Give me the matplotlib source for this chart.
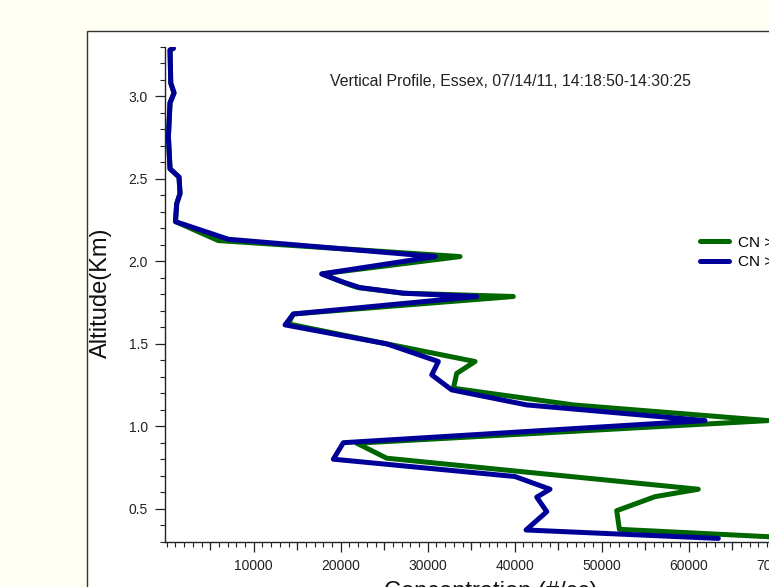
import matplotlib
matplotlib.use("Agg")
import matplotlib.pyplot as plt
from matplotlib.patches import Rectangle
from matplotlib.ticker import MultipleLocator, FixedLocator

plt.rcParams['font.family'] = ['Liberation Sans', 'DejaVu Sans']

# ---- data ----
alt_blue = [3.29, 3.28, 3.08, 3.02, 2.96, 2.755, 2.56, 2.51, 2.41, 2.35, 2.24,
            2.133, 2.028, 1.923, 1.876, 1.84, 1.806, 1.786, 1.68, 1.614, 1.499,
            1.392, 1.311, 1.22, 1.129, 1.034, 0.90, 0.80, 0.695, 0.618, 0.57,
            0.482, 0.371, 0.32]
cn_blue = [760, 380, 460, 840, 380, 190, 380, 1410, 1530, 1150, 1000,
           7090, 30840, 17820, 20110, 22220, 27200, 35630, 14550, 13600, 25290,
           31220, 30460, 32760, 41380, 61870, 20300, 19150, 40030, 44060, 42530,
           43680, 41300, 63400]

alt_green = [3.29, 3.28, 3.08, 3.02, 2.96, 2.755, 2.56, 2.51, 2.41, 2.35, 2.24,
             2.125, 2.028, 1.923, 1.856, 1.84, 1.806, 1.786, 1.68, 1.62, 1.499,
             1.392, 1.32, 1.23, 1.129, 1.034, 0.897, 0.806, 0.618, 0.573,
             0.488, 0.375, 0.315]
cn_green = [760, 380, 460, 840, 380, 190, 380, 1410, 1530, 1150, 1000,
            5930, 33710, 17820, 21070, 22000, 27200, 39840, 14550, 13980, 25290,
            35440, 33330, 32950, 46740, 69150, 21840, 25290, 61100, 56130,
            51720, 52030, 75000]

labels = ["CN > 3nm", "CN > 10nm"]
title = "Vertical Profile, Essex, 07/14/11, 14:18:50-14:30:25"
xlabel = "Concentration (#/cc)"
ylabel = "Altitude(Km)"
xtick_values = [10000, 20000, 30000, 40000, 50000, 60000, 70000, 80000]
ytick_values = [0.5, 1.0, 1.5, 2.0, 2.5, 3.0]

W, H = 769, 587
fig = plt.figure(figsize=(W / 100, H / 100), dpi=100, facecolor='#FFFFF4')

# outer white frame (extends past the right / bottom edges)
fig.patches.append(Rectangle((86.5 / W, -0.2), 1.5, (1 - 30.5 / H) + 0.2,
                             transform=fig.transFigure, facecolor='white',
                             edgecolor='#333333', linewidth=1.0, zorder=-5))

ax_left = 165 / W
ax_bottom = (H - 541.7) / H
ax_height = (541.7 - 46.7) / H
ax_width = (80200 * 0.0087) / W
ax = fig.add_axes([ax_left, ax_bottom, ax_width, ax_height])
ax.set_zorder(2)
ax.set_facecolor('none')

ax.plot(cn_green, alt_green, color='#006600', lw=3.6, label=labels[0],
        solid_capstyle='round', solid_joinstyle='round', zorder=2)
ax.plot(cn_blue, alt_blue, color='#000099', lw=3.6, label=labels[1],
        solid_capstyle='round', solid_joinstyle='round', zorder=3)

ax.set_xlim(-200, 80000)
ax.set_ylim(0.3, 3.3)

for s in ['top', 'right']:
    ax.spines[s].set_visible(False)
for s in ['left', 'bottom']:
    ax.spines[s].set_color('#222222')
    ax.spines[s].set_linewidth(1.0)

ax.xaxis.set_major_locator(FixedLocator(xtick_values))
ax.xaxis.set_minor_locator(MultipleLocator(1000))
ax.yaxis.set_major_locator(FixedLocator(ytick_values))
ax.yaxis.set_minor_locator(MultipleLocator(0.1))
ax.set_xticklabels([str(v) for v in xtick_values])
ax.set_yticklabels([f"{v:.1f}" for v in ytick_values])

ax.tick_params(which='major', length=7.5, width=0.9, color='#222222',
               labelsize=10, labelcolor='#222222', pad=5)
ax.tick_params(which='minor', length=3.8, width=0.8, color='#222222')

# medium ticks at the 5000 midpoints
sec = ax.secondary_xaxis('bottom')
sec.set_xticks([5000 + v for v in range(0, 80000, 10000)])
sec.tick_params(length=5.8, width=0.9, color='#222222', labelbottom=False)
sec.spines['bottom'].set_visible(False)

fig.text(510.5 / W, 1 - 82 / H, title, ha='center', va='center',
         fontsize=11.4, color='#222222')
fig.text(491 / W, 1 - 592 / H, xlabel, ha='center', va='center',
         fontsize=17, color='#111111')
fig.text(101 / W, 1 - 293 / H, ylabel, ha='center', va='center',
         rotation=90, fontsize=17, color='#111111')

fig.legend(loc='center left', bbox_to_anchor=(700 / W, 1 - 252.5 / H),
           bbox_transform=fig.transFigure, frameon=False, fontsize=11,
           handlelength=1.9, handletextpad=0.6, labelspacing=0.36,
           borderpad=0, borderaxespad=0)

fig.savefig('out.png', dpi=100, facecolor=fig.get_facecolor())
